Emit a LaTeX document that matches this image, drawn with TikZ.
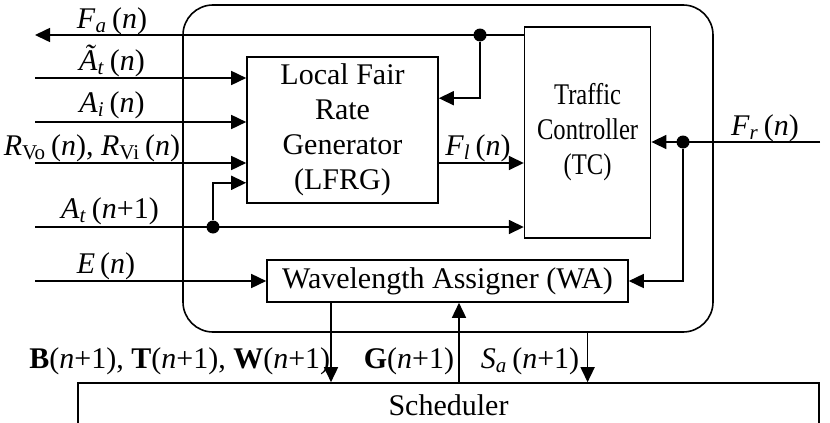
\documentclass[tikz,border=0pt]{standalone}
\usepackage{fontspec}
\setmainfont{Liberation Serif}
\newfontfamily\tcfont[FakeStretch=0.82]{Liberation Serif}
\usetikzlibrary{positioning,arrows.meta}
\newcommand{\var}[2]{\textit{#1}\textsubscript{#2}}

\begin{document}
\begin{tikzpicture}[
  x=0.5pt, y=-0.5pt,
  font=\fontsize{15}{17.5}\selectfont,
  line width=0.8pt,
  blk/.style={draw, align=center, inner sep=0pt},
  lbl/.style={anchor=base, inner sep=0pt},
  arr/.style={-{Triangle[length=7.5pt,width=7pt]}},
  dot/.style={circle, fill, inner sep=0pt, minimum size=6.5pt}
]
\useasboundingbox (0,0) rectangle (830,423);
% blocks
\node[blk, rounded corners=15pt, minimum width=265pt, minimum height=163.5pt] (unit) at (448,168.5) {};
\node[blk, minimum width=95.5pt, minimum height=73pt] (lfrg) at (342.5,130) {Local Fair\\Rate\\Generator\\(LFRG)};
\node[blk, minimum width=63pt, minimum height=105.5pt, right=42.5pt of lfrg, yshift=-1.25pt, font=\tcfont\fontsize{15}{17.5}\selectfont] (tc) {Traffic\\Controller\\(TC)};
\node[blk, minimum width=180.5pt, minimum height=21pt] (wa) at (447.5,281) {Wavelength Assigner (WA)};
\node[blk, minimum width=370.5pt, minimum height=22pt] (sch) at (448.5,405) {Scheduler};
% junctions
\node[dot] (faj) at (480,35) {};
\node[dot] (atj) at (213,227) {};
\node[dot] (frj) at (683,142) {};
% free ends
\coordinate (faout) at (35,35);
\foreach \y/\n in {78/at, 122/ai, 163/rv} {
  \coordinate (in\n) at (35,\y);
  \draw[arr] (in\n) -- (in\n -| lfrg.west);
}
\coordinate (inat) at (35,227);
\coordinate (ine) at (35,281);
\coordinate (frin) at (820,142);
\coordinate (xb) at (331,0);
\coordinate (xg) at (459,0);
% connectors
\draw[arr] (faj -| tc.west) -- (faout);
\draw[arr] (faj) |- ([yshift=-21pt]lfrg.north east);
\draw[arr] (inat) -- (inat -| tc.west);
\draw[arr] (atj) |- ([yshift=10.5pt]lfrg.south west);
\draw[arr] (lfrg.east |- inrv) -- (tc.west |- inrv);
\draw[arr] (frin) -- (frin -| tc.east);
\draw[arr] (frj) |- (wa.east);
\draw[arr] (ine) -- (wa.west);
\draw[arr] (wa.south -| xb) -- (sch.north -| xb);
\draw[arr] (sch.north -| xg) -- (wa.south -| xg);
\draw[arr] (unit.south -| tc) -- (sch.north -| tc);
% labels
\node[lbl] (lfa) at (112,28) {\var{F}{\textit{a}}\,(\textit{n})};
\node[lbl] (lat) at (112,70) {\var{\~A}{\textit{t}}\,(\textit{n})};
\node[lbl] (lai) at (112,112) {\var{A}{\textit{i}}\,(\textit{n})};
\node[lbl] (lrv) at (92,155) {\var{R}{Vo}\,(\textit{n}), \var{R}{Vi}\,(\textit{n})};
\node[lbl] (lat1) at (110,218) {\var{A}{\textit{t}}\,(\textit{n}+1)};
\node[lbl] (le) at (106,273) {\textit{E}\,(\textit{n})};
\node[lbl] (lfl) at (478,155) {\var{F}{\textit{l}}\,(\textit{n})};
\node[lbl] (lfr) at (765,135) {\var{F}{\textit{r}}\,(\textit{n})};
\node[lbl, anchor=base east] (lbtw) at (331,368) {\textbf{B}(\textit{n}+1), \textbf{T}(\textit{n}+1), \textbf{W}(\textit{n}+1)};
\node[lbl] (lg) at (409,368) {\textbf{G}(\textit{n}+1)};
\node[lbl] (lsa) at (530,368) {\var{S}{\textit{a}}\,(\textit{n}+1)};
\end{tikzpicture}
\end{document}
